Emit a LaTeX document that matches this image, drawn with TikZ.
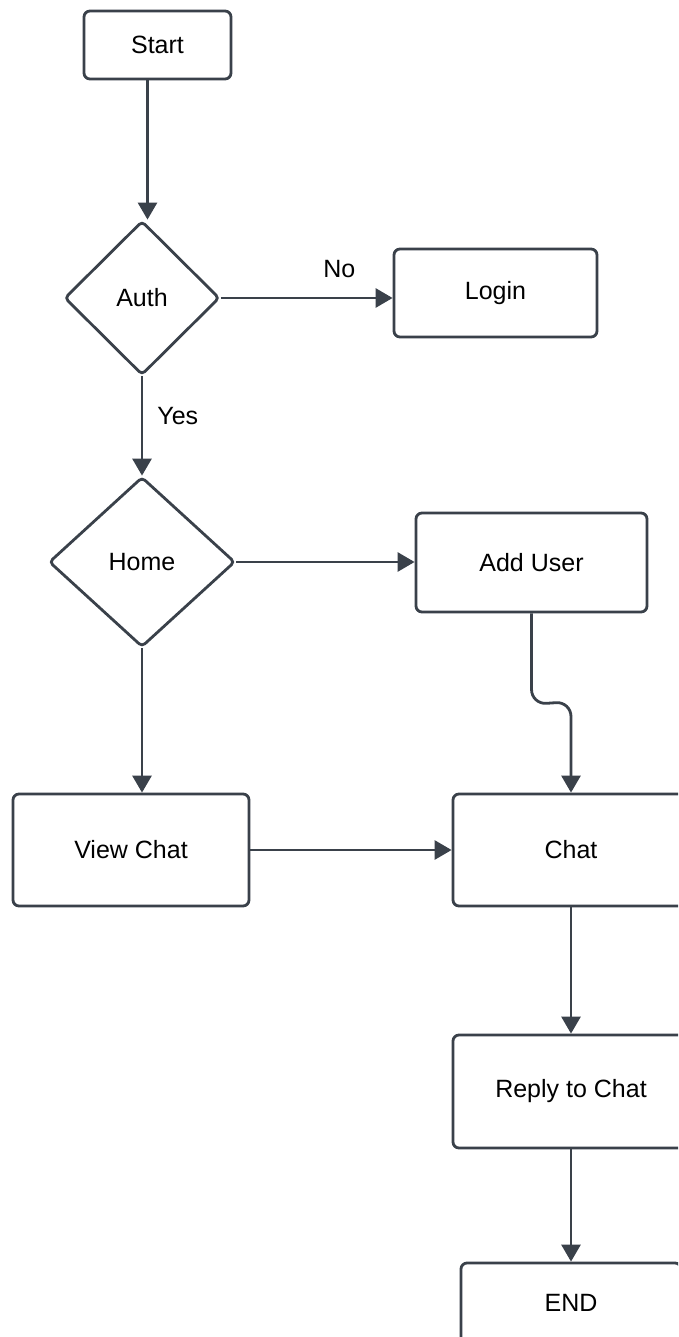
\documentclass[tikz,border=0pt]{standalone}
\usepackage{fontspec}
\setmainfont{Liberation Sans}
\usetikzlibrary{shapes.geometric,arrows.meta}
\definecolor{ink}{HTML}{3A414A}
\tikzset{
  box/.style={draw=ink, line width=2.8pt, rounded corners=6pt, fill=white,
    font=\fontsize{25}{30}\selectfont, text=black, inner sep=0pt},
  decision/.style={draw=ink, line width=2.8pt, diamond, rounded corners=4pt,
    fill=white, font=\fontsize{25}{30}\selectfont, text=black, inner sep=0pt},
  arr/.style={draw=ink, line width=2.8pt, -{Triangle[length=17pt,width=19pt]}},
  lbl/.style={font=\fontsize{25}{30}\selectfont, text=black, inner sep=0pt}
}
\begin{document}
\begin{tikzpicture}[x=1pt,y=-1pt]
\clip (0,0) rectangle (678,1337);
\fill[white] (0,0) rectangle (678,1337);

% nodes
\node[box, minimum width=147pt, minimum height=68pt] (start) at (157.5,45) {Start};
\node[decision, minimum width=155pt, minimum height=154pt] (auth) at (142,298) {Auth};
\node[box, minimum width=203pt, minimum height=88pt] (login) at (495.5,293) {Login};
\node[decision, minimum width=186pt, minimum height=170pt] (home) at (142,562) {Home};
\node[box, minimum width=231pt, minimum height=99pt] (adduser) at (531.5,562.5) {Add User};
\node[box, minimum width=236pt, minimum height=112pt] (viewchat) at (131,850) {View Chat};
\node[box, minimum width=236pt, minimum height=112pt] (chat) at (571,850) {Chat};
\node[box, minimum width=236pt, minimum height=113pt] (reply) at (571,1091.5) {Reply to Chat};
\node[box, minimum width=220pt, minimum height=80pt] (end) at (571,1303) {END};

% connectors
\coordinate (s0) at ([xshift=-10pt]start.south);
\draw[arr] (s0) -- (s0 |- auth.north);
\draw[arr] (auth.east) -- (login.west |- auth.east)
  node[lbl, pos=0.69, above=19pt] {No};
\draw[arr] (auth.south) -- (home.north)
  node[lbl, pos=0.4, right=14pt] {Yes};
\draw[arr] (home.east) -- (adduser.west |- home.east);
\draw[arr, rounded corners=15pt] (adduser.south) -- ++(0,91) -- ([yshift=91pt]chat.north) -- (chat.north);
\draw[arr] (home.south) -- (home.south |- viewchat.north);
\draw[arr] (viewchat.east) -- (chat.west);
\draw[arr] (chat.south) -- (reply.north);
\draw[arr] (reply.south) -- (end.north);
\end{tikzpicture}
\end{document}
